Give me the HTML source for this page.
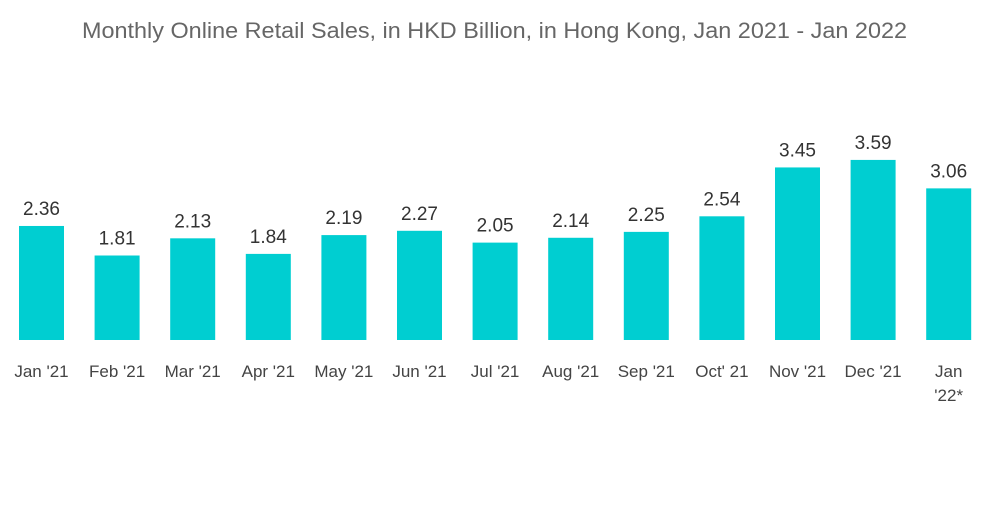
<!DOCTYPE html>
<html><head><meta charset="utf-8"><style>
body{margin:0;background:#fff;width:1000px;height:504px;overflow:hidden;font-family:"Liberation Sans",sans-serif}
</style></head><body>
<svg id="chart" width="1000" height="504" xmlns="http://www.w3.org/2000/svg">
<text x="82" y="38" textLength="825" lengthAdjust="spacingAndGlyphs" font-size="22" fill="#666">Monthly Online Retail Sales, in HKD Billion, in Hong Kong, Jan 2021 - Jan 2022</text>
<g id="bars"></g>
</svg>
<script>
const categories=["Jan '21","Feb '21","Mar '21","Apr '21","May '21","Jun '21","Jul '21","Aug '21","Sep '21","Oct' 21","Nov '21","Dec '21","Jan\n'22*"];
const values=[2.36,1.81,2.13,1.84,2.19,2.27,2.05,2.14,2.25,2.54,3.45,3.59,3.06];
const labels=["2.36","1.81","2.13","1.84","2.19","2.27","2.05","2.14","2.25","2.54","3.45","3.59","3.06"];
const NS="http://www.w3.org/2000/svg";
const g=document.getElementById('bars');
const base=340;
function xPos(i){return 19+i*75.6;}
function yPos(v){return 352.7-53.7*v;}
const bw=45;
values.forEach((v,i)=>{
  const x=xPos(i),y=yPos(v);
  const r=document.createElementNS(NS,'rect');
  
  
  r.setAttribute('x',x);r.setAttribute('y',y);r.setAttribute('width',bw);r.setAttribute('height',base-y);
  r.setAttribute('fill','#00ced1');
  g.appendChild(r);
  const t=document.createElementNS(NS,'text');
  
  
  t.setAttribute('x',x+bw/2);t.setAttribute('y',y-11);
  t.setAttribute('text-anchor','middle');t.setAttribute('font-size','19');t.setAttribute('fill','#333');
  t.textContent=labels[i];
  g.appendChild(t);
  const lines=categories[i].split('\n');
  lines.forEach((ln,j)=>{
    const c=document.createElementNS(NS,'text');
    
    
    c.setAttribute('x',x+bw/2);c.setAttribute('y',377+j*24);
    c.setAttribute('text-anchor','middle');c.setAttribute('font-size','17');c.setAttribute('fill','#444');
    c.textContent=ln;
    g.appendChild(c);
  });
});
</script>
</body></html>
